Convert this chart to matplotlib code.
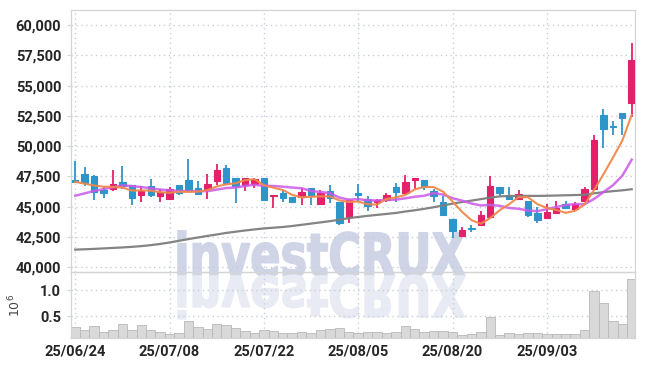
import matplotlib
matplotlib.use("Agg")
import matplotlib.pyplot as plt
from matplotlib.textpath import TextPath
from matplotlib.patches import PathPatch
from matplotlib.font_manager import FontProperties
from matplotlib.transforms import Affine2D
from matplotlib.ticker import FuncFormatter

# 60 trading days, 2025-06-24 .. 2025-09-16
dates = [
    "25/06/24", "25/06/25", "25/06/26", "25/06/27", "25/06/30",
    "25/07/01", "25/07/02", "25/07/03", "25/07/04", "25/07/07",
    "25/07/08", "25/07/09", "25/07/10", "25/07/11", "25/07/14",
    "25/07/15", "25/07/16", "25/07/17", "25/07/18", "25/07/21",
    "25/07/22", "25/07/23", "25/07/24", "25/07/25", "25/07/28",
    "25/07/29", "25/07/30", "25/07/31", "25/08/01", "25/08/04",
    "25/08/05", "25/08/06", "25/08/07", "25/08/08", "25/08/11",
    "25/08/12", "25/08/13", "25/08/14", "25/08/18", "25/08/19",
    "25/08/20", "25/08/21", "25/08/22", "25/08/25", "25/08/26",
    "25/08/27", "25/08/28", "25/08/29", "25/09/01", "25/09/02",
    "25/09/03", "25/09/04", "25/09/05", "25/09/08", "25/09/09",
    "25/09/10", "25/09/11", "25/09/12", "25/09/15", "25/09/16",
]

opens = [47200, 47700, 47550, 46350, 46500, 47050, 46800, 46000, 46700, 45850,
         45600, 46800, 47200, 46550, 46450, 47100, 48200, 47350, 46800, 46900,
         47400, 45850, 46100, 45800, 45800, 46550, 45250, 46300, 45400, 44150,
         46150, 45650, 45350, 45550, 46600, 46100, 47200, 47200, 46300, 45400,
         43950, 42600, 43200, 43450, 44150, 46650, 45900, 45600, 45450, 44450,
         44100, 44500, 45200, 44800, 45450, 46450, 52600, 51700, 52700, 53600]
highs = [48750, 48300, 47600, 46600, 48050, 48350, 46800, 46700, 47300, 46450,
         46650, 46800, 48900, 47100, 47700, 48550, 48450, 47350, 47350, 47400,
         47400, 45950, 46350, 45800, 46550, 46550, 46350, 46800, 45400, 45650,
         46850, 45850, 45650, 46150, 46950, 47600, 47350, 47200, 46450, 45850,
         43950, 43350, 43450, 44650, 47550, 46650, 46600, 46350, 45450, 44950,
         45200, 45450, 45450, 45350, 46650, 50900, 53100, 52100, 52700, 58500]
lows = [46950, 46700, 45550, 45750, 46300, 46450, 45100, 45400, 45800, 45400,
        45550, 45950, 46250, 46050, 45650, 46800, 46800, 45300, 46300, 46550,
        45500, 44850, 45350, 45300, 45150, 45100, 45250, 45300, 43500, 43650,
        45400, 44650, 44900, 45400, 45350, 46050, 46450, 46400, 45350, 44300,
        42450, 42600, 42900, 43450, 44150, 45850, 45550, 45600, 44150, 43650,
        44100, 44500, 44850, 44800, 45450, 46450, 49850, 50900, 50900, 52400]
closes = [47000, 46950, 46250, 46100, 46900, 46700, 45700, 46300, 46000, 46250,
          46500, 46100, 46300, 46050, 46850, 48050, 46950, 46700, 47350, 47250,
          45550, 45950, 45750, 45350, 46200, 45850, 46150, 45750, 43650, 45550,
          46000, 45050, 45550, 45950, 46250, 47000, 47350, 46600, 45900, 44350,
          42950, 43100, 43150, 44350, 46700, 46150, 45600, 46050, 44350, 43900,
          44550, 44850, 44850, 45200, 46500, 50500, 51400, 51600, 52300, 57100]

# moving averages as drawn (5 / 10 / 60 day)
ma5 = [47050, 46900, 46750, 46650, 46630, 46580, 46330, 46340, 46320, 46190,
       46150, 46230, 46230, 46240, 46360, 46670, 46840, 46930, 47190, 47270,
       46770, 46570, 46380, 45970, 45770, 45820, 45850, 45850, 45520, 45390,
       45420, 45200, 45170, 45630, 45770, 45970, 46430, 46630, 46620, 46240,
       45430, 44580, 43890, 43590, 44060, 44700, 45200, 45780, 45780, 45210,
       44890, 44730, 44490, 44660, 45180, 46370, 47670, 49040, 50450, 52580]
ma10 = [45900, 46100, 46300, 46450, 46600, 46750, 46700, 46620, 46520, 46410,
        46360, 46280, 46280, 46280, 46280, 46410, 46540, 46580, 46710, 46810,
        46720, 46710, 46650, 46580, 46520, 46290, 46210, 46120, 45750, 45580,
        45620, 45530, 45510, 45570, 45580, 45690, 45820, 45900, 46120, 46000,
        45700, 45500, 45260, 45100, 45150, 45070, 44890, 44830, 44680, 44630,
        44790, 44970, 45130, 45220, 45200, 45630, 46200, 46760, 47550, 48880]
ma60 = [41450, 41480, 41510, 41550, 41590, 41630, 41680, 41740, 41820, 41920,
        42040, 42180, 42320, 42450, 42580, 42700, 42830, 42930, 43030, 43120,
        43200, 43260, 43320, 43400, 43500, 43600, 43700, 43800, 43920, 44050,
        44150, 44240, 44320, 44400, 44480, 44600, 44700, 44820, 44950, 45100,
        45250, 45380, 45500, 45620, 45750, 45850, 45880, 45890, 45890, 45890,
        45900, 45920, 45940, 45960, 45980, 46100, 46200, 46280, 46350, 46440]

# volume, millions of shares
volume = [0.29, 0.23, 0.31, 0.19, 0.23, 0.35, 0.24, 0.33, 0.23, 0.19,
          0.15, 0.17, 0.40, 0.29, 0.26, 0.35, 0.33, 0.28, 0.22, 0.17,
          0.23, 0.21, 0.17, 0.17, 0.19, 0.17, 0.23, 0.25, 0.27, 0.19,
          0.17, 0.19, 0.19, 0.17, 0.19, 0.32, 0.25, 0.20, 0.21, 0.21,
          0.19, 0.13, 0.15, 0.19, 0.48, 0.13, 0.17, 0.15, 0.17, 0.17,
          0.15, 0.15, 0.15, 0.15, 0.23, 0.98, 0.76, 0.40, 0.35, 1.22]

UP = "#e5206a"
DOWN = "#2e95c9"
GRID = "#c8cdd9"
LABEL_FONT = ["Roboto", "DejaVu Sans"]

fig = plt.figure(figsize=(6.45, 3.66), dpi=100)
fig.patch.set_facecolor("white")

# watermark (behind both panels) + mirrored reflection
wm_prop = FontProperties(family="DejaVu Sans", weight="heavy")
tp = TextPath((0, 0), "investCRUX", size=100, prop=wm_prop)
cap_h = TextPath((0, 0), "C", size=100, prop=wm_prop).get_extents().y1
ext = tp.get_extents()
sx = 287 / ext.width
sy = 44 / cap_h
x0 = 178 - ext.x0 * sx
base = 366 - 276
for flip, col in [(1, "#cfd5e7"), (-0.95, "#e8ebf3")]:
    tr = Affine2D().scale(sx / 100, flip * sy / 100).translate(x0 / 100, base / 100)
    fig.patches.append(PathPatch(tp, transform=tr + fig.dpi_scale_trans,
                                 facecolor=col, edgecolor=col, linewidth=1.2,
                                 zorder=-1))

ax = fig.add_axes([0.1101, 0.2568, 0.8744, 0.7159])
axv = fig.add_axes([0.1101, 0.0765, 0.8744, 0.1803], sharex=ax)
for a in (ax, axv):
    a.set_facecolor("none")
    for s in a.spines.values():
        s.set_color("#d4d4d4")
        s.set_linewidth(0.9)
    a.grid(True, color=GRID, linestyle=(0, (1, 2.5)), linewidth=1.0)
    a.set_axisbelow(True)

x = list(range(len(dates)))
colors = [UP if c >= o else DOWN for o, c in zip(opens, closes)]
ax.vlines(x, lows, highs, colors=colors, linewidth=1.3, zorder=2)
ax.bar(x, [abs(c - o) for o, c in zip(opens, closes)],
       bottom=[min(o, c) for o, c in zip(opens, closes)],
       width=0.68, color=colors, edgecolor=colors, linewidth=0.8, zorder=3)

ax.plot(x, ma60, color="#7d7d7d", linewidth=1.6, alpha=0.95, zorder=4)
ax.plot(x, ma10, color="#cc5ae8", linewidth=1.8, alpha=0.85, zorder=4)
ax.plot(x, ma5, color="#f0884a", linewidth=1.5, alpha=0.95, zorder=5)

ax.set_ylim(39600, 61250)
ax.set_yticks(range(40000, 60001, 2500))
ax.yaxis.set_major_formatter(FuncFormatter(lambda v, p: f"{int(v):,}"))
ax.set_xlim(-0.45, 59.35)
ax.tick_params(axis="x", length=0, labelbottom=False)
ax.tick_params(axis="y", length=3, color="#d4d4d4", pad=4)

axv.bar(x, volume, width=1.0, color="#d9d9d9", edgecolor="#b8b8b8",
        linewidth=0.6, zorder=2)
axv.set_ylim(0.08, 1.35)
axv.set_yticks([0.5, 1.0])
axv.set_ylabel(r"$10^6$", fontsize=9, color="#444", labelpad=12)
axv.set_xticks(x[::10])
axv.set_xticklabels(dates[::10])
axv.tick_params(axis="x", length=0, pad=5)
axv.tick_params(axis="y", length=3, color="#d4d4d4", pad=4)

for lab in ax.get_yticklabels() + axv.get_yticklabels() + axv.get_xticklabels():
    lab.set_family(LABEL_FONT)
    lab.set_fontweight("bold")
    lab.set_fontsize(10.5)
    lab.set_color("#262626")

fig.savefig("out.png", dpi=100, facecolor="white")
